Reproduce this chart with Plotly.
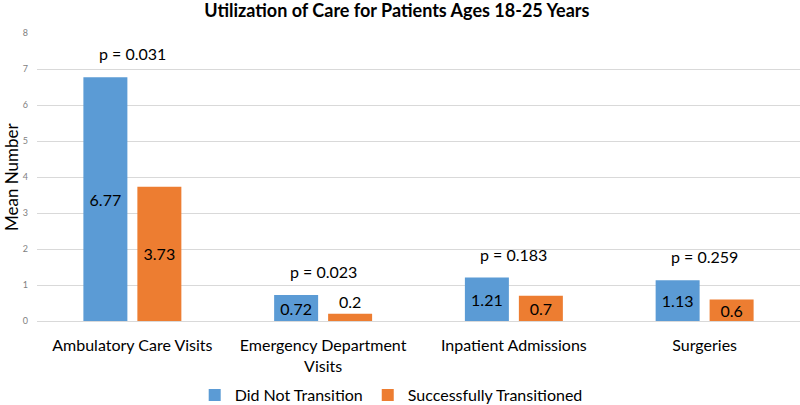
import plotly.graph_objects as go

categories = ["Ambulatory Care Visits", "Emergency Department<br>Visits", "Inpatient Admissions", "Surgeries"]
did_not_transition = [6.77, 0.72, 1.21, 1.13]
successfully_transitioned = [3.73, 0.2, 0.7, 0.6]
p_values = ["p = 0.031", "p = 0.023", "p = 0.183", "p = 0.259"]
y_ticks = [0, 1, 2, 3, 4, 5, 6, 7, 8]

FONT = "Lato"
BLUE = "#5B9BD5"
ORANGE = "#ED7D31"

def positions(vals):
    return ["outside" if v < 0.5 else "inside" for v in vals]

fig = go.Figure()
for name, vals, color in [("Did Not Transition", did_not_transition, BLUE),
                          ("Successfully Transitioned", successfully_transitioned, ORANGE)]:
    fig.add_trace(go.Bar(
        name=name, x=categories, y=vals,
        marker=dict(color=color, line=dict(width=0)),
        text=[str(v) for v in vals], textposition=positions(vals),
        insidetextanchor="middle", constraintext="none",
        textfont=dict(color="#000000", size=16, family=FONT),
        outsidetextfont=dict(color="#000000", size=16, family=FONT),
        cliponaxis=False,
    ))

annotations = []
for c, a, b, p in zip(categories, did_not_transition, successfully_transitioned, p_values):
    annotations.append(dict(x=c, y=max(a, b) + 0.65, text=p, showarrow=False,
                            xref="x", yref="y", font=dict(size=16, family=FONT, color="#000000")))
annotations.append(dict(text="Mean Number", x=(11 - 37) / 763, y=(321 - 177) / 288,
                        xref="paper", yref="paper", xanchor="center", yanchor="middle",
                        showarrow=False, textangle=-90,
                        font=dict(size=17, family=FONT, color="#000000")))

fig.update_layout(
    width=800, height=405,
    margin=dict(l=37, r=0, t=33, b=84, autoexpand=False),
    paper_bgcolor="white", plot_bgcolor="white",
    barmode="group", bargap=0.434, bargroupgap=0.185,
    title=dict(text="<b>Utilization of Care for Patients Ages 18-25 Years</b>",
               x=0.496, xref="container", xanchor="center", y=1 - 11 / 405, yref="container", yanchor="middle",
               font=dict(size=18, family=FONT, color="#000000")),
    font=dict(family=FONT, color="#000000"),
    legend=dict(orientation="h", x=0.489, xref="container", xanchor="center",
                y=1 - 395 / 405, yref="container", yanchor="middle",
                font=dict(size=16, family=FONT, color="#000000"),
                itemwidth=30, traceorder="normal"),
    showlegend=True,
    annotations=annotations,
)

fig.update_yaxes(range=[0, 8], tickvals=y_ticks, showgrid=True, gridcolor="#D9D9D9", gridwidth=1,
                 zeroline=True, zerolinecolor="#D9D9D9", zerolinewidth=1,
                 tickfont=dict(size=9, family=FONT, color="#7F7F7F"), ticklabelstandoff=8,
                 showline=False, fixedrange=True)
fig.update_xaxes(showline=False, showgrid=False, tickfont=dict(size=16, family=FONT, color="#000000"),
                 ticklabelstandoff=13, fixedrange=True)

fig.write_html("out.html", config={"displayModeBar": False},
               post_script="document.body.style.margin='0';document.body.style.padding='0';")
